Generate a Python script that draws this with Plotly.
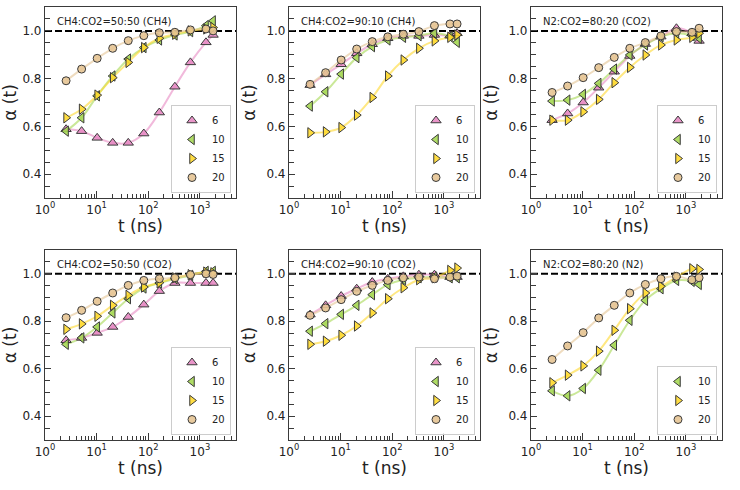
import math
import plotly.graph_objects as go

# ---- data ----
t_ns = [2.56, 5.12, 10.24, 20.48, 40.96, 81.92, 163.84, 327.68, 655.36, 1310.72, 1800]

panel_titles = ["CH4:CO2=50:50 (CH4)", "CH4:CO2=90:10 (CH4)", "N2:CO2=80:20 (CO2)",
                "CH4:CO2=50:50 (CO2)", "CH4:CO2=90:10 (CO2)", "N2:CO2=80:20 (N2)"]

a1_6 = [0.588, 0.580, 0.552, 0.531, 0.531, 0.570, 0.658, 0.766, 0.868, 0.952, 0.983]
a1_10 = [0.580, 0.636, 0.728, 0.811, 0.882, 0.930, 0.962, 0.983, 0.997, 1.022, 1.042]
a1_15 = [0.636, 0.672, 0.731, 0.804, 0.868, 0.930, 0.969, 0.986, 1.000, 1.008, 1.014]
a1_20 = [0.791, 0.840, 0.885, 0.927, 0.959, 0.980, 0.992, 0.994, 1.004, 1.008, 1.000]

a2_6 = [0.773, 0.818, 0.860, 0.906, 0.944, 0.969, 0.979, 0.979, 0.983, 0.980, 0.990]
a2_10 = [0.685, 0.745, 0.819, 0.888, 0.934, 0.962, 0.973, 0.980, 0.990, 0.976, 0.952]
a2_15 = [0.573, 0.577, 0.595, 0.647, 0.721, 0.811, 0.878, 0.927, 0.958, 0.973, 0.983]
a2_20 = [0.776, 0.825, 0.878, 0.924, 0.955, 0.975, 0.986, 0.997, 1.022, 1.029, 1.029]

a3_6 = [0.626, 0.654, 0.700, 0.762, 0.829, 0.895, 0.945, 0.976, 1.011, 0.990, 0.958]
a3_10 = [0.706, 0.710, 0.734, 0.780, 0.840, 0.899, 0.941, 0.976, 0.990, 0.980, 0.969]
a3_15 = [0.626, 0.626, 0.661, 0.713, 0.783, 0.847, 0.899, 0.941, 0.962, 0.973, 0.990]
a3_20 = [0.742, 0.769, 0.804, 0.846, 0.889, 0.927, 0.951, 0.979, 0.997, 0.994, 1.011]

a4_6 = [0.720, 0.730, 0.751, 0.776, 0.818, 0.870, 0.927, 0.961, 0.961, 0.961, 0.961]
a4_10 = [0.703, 0.730, 0.776, 0.835, 0.895, 0.940, 0.961, 0.979, 0.993, 1.010, 1.010]
a4_15 = [0.766, 0.789, 0.821, 0.867, 0.909, 0.944, 0.962, 0.983, 0.996, 1.007, 1.004]
a4_20 = [0.815, 0.846, 0.884, 0.919, 0.951, 0.972, 0.979, 0.983, 0.996, 1.000, 0.997]

a5_6 = [0.828, 0.867, 0.906, 0.937, 0.965, 0.979, 0.989, 0.996, 0.996, 0.986, 0.986]
a5_10 = [0.758, 0.790, 0.829, 0.867, 0.912, 0.954, 0.975, 0.983, 0.986, 0.983, 0.983]
a5_15 = [0.703, 0.716, 0.741, 0.780, 0.835, 0.895, 0.941, 0.975, 0.983, 1.014, 1.024]
a5_20 = [0.825, 0.856, 0.891, 0.926, 0.951, 0.972, 0.983, 0.986, 0.979, 0.986, 0.990]

a6_10 = [0.507, 0.486, 0.517, 0.594, 0.699, 0.804, 0.888, 0.937, 0.972, 0.968, 0.955]
a6_15 = [0.541, 0.573, 0.612, 0.674, 0.762, 0.853, 0.919, 0.947, 0.986, 1.021, 1.018]
a6_20 = [0.639, 0.696, 0.752, 0.814, 0.867, 0.919, 0.955, 0.979, 0.989, 0.975, 0.983]

panels = [
    {"6": a1_6, "10": a1_10, "15": a1_15, "20": a1_20},
    {"6": a2_6, "10": a2_10, "15": a2_15, "20": a2_20},
    {"6": a3_6, "10": a3_10, "15": a3_15, "20": a3_20},
    {"6": a4_6, "10": a4_10, "15": a4_15, "20": a4_20},
    {"6": a5_6, "10": a5_10, "15": a5_15, "20": a5_20},
    {"10": a6_10, "15": a6_15, "20": a6_20},
]

x_tickvals = [1, 10, 100, 1000]
x_ticktext = ["10<sup>0</sup>", "10<sup>1</sup>", "10<sup>2</sup>", "10<sup>3</sup>"]
x_minor = [m * 10 ** d for d in range(0, 4) for m in range(2, 10) if m * 10 ** d <= 5000]

# ---- style ----
rgb = {"6": (231, 138, 195), "10": (166, 216, 84), "15": (255, 217, 47), "20": (229, 196, 148)}
symbols = {"6": "triangle-up", "10": "triangle-left", "15": "triangle-right", "20": "circle"}

W, H = 740, 490
col_px = [(45, 236), (289, 480), (531, 722)]
row_px = [(7, 198), (250, 440)]

FONT = "DejaVu Sans"
AX = "#3a3a3a"

fig = go.Figure()
layout = dict(
    width=W, height=H, margin=dict(l=0, r=0, t=0, b=0),
    paper_bgcolor="white", plot_bgcolor="white",
    font=dict(family=FONT, color="#222", size=11),
    showlegend=True, shapes=[], annotations=[],
)

for i, data in enumerate(panels):
    r, c = divmod(i, 3)
    k = i + 1
    xa = "x" if k == 1 else f"x{k}"
    ya = "y" if k == 1 else f"y{k}"
    lg = "legend" if k == 1 else f"legend{k}"
    x0, x1 = col_px[c]
    y0, y1 = row_px[r]
    # lines
    for s, vals in data.items():
        R, G, B = rgb[s]
        fig.add_trace(go.Scatter(
            x=t_ns, y=vals, xaxis=xa, yaxis=ya, mode="lines",
            line=dict(shape="spline", smoothing=1.0, width=2, color=f"rgba({R},{G},{B},0.6)"),
            showlegend=False, hoverinfo="skip", legend=lg))
    # markers
    for s, vals in data.items():
        R, G, B = rgb[s]
        fig.add_trace(go.Scatter(
            x=t_ns, y=vals, xaxis=xa, yaxis=ya, mode="markers", name=s, legend=lg,
            marker=dict(symbol=symbols[s], size=9 if s != "20" else 8,
                        color=f"rgba({R},{G},{B},0.9)",
                        line=dict(color="#3a3a3a", width=1))))
    layout["xaxis" if k == 1 else f"xaxis{k}"] = dict(
        type="log", range=[0, math.log10(5000)], domain=[x0 / W, x1 / W], anchor=ya,
        showline=True, linecolor=AX, linewidth=1.2, mirror=True,
        showgrid=False, zeroline=False, automargin=False,
        ticks="inside", ticklen=7, tickcolor=AX, tickwidth=1,
        tickvals=x_tickvals, ticktext=x_ticktext,
        tickfont=dict(size=12, color="#222"),
        minor=dict(ticks="inside", ticklen=4, tickcolor=AX, tickvals=x_minor, showgrid=False),
        title=dict(text="t (ns)", font=dict(size=17, color="#222"), standoff=4),
    )
    layout["yaxis" if k == 1 else f"yaxis{k}"] = dict(
        range=[0.3, 1.1], domain=[1 - y1 / H, 1 - y0 / H], anchor=xa,
        showline=True, linecolor=AX, linewidth=1.2, mirror=True,
        showgrid=False, zeroline=False, automargin=False,
        ticks="inside", ticklen=6, tickcolor=AX, tickwidth=1,
        tick0=0, dtick=0.2, tickformat=".1f",
        tickfont=dict(size=12, color="#222"),
        minor=dict(ticks="inside", ticklen=5, tickcolor=AX, tick0=0, dtick=0.05, showgrid=False),
        title=dict(text="α (t)", font=dict(size=17, color="#222"), standoff=6),
    )
    layout[lg] = dict(
        x=(x1 - 5) / W, y=1 - (y1 - 5) / H, xanchor="right", yanchor="bottom",
        xref="paper", yref="paper",
        bgcolor="rgba(255,255,255,0.85)", bordercolor="#cccccc", borderwidth=1,
        font=dict(size=10, color="#222"), itemwidth=30, tracegroupgap=0,
    )
    layout["shapes"].append(dict(
        type="line", xref=f"{xa} domain", yref=ya, x0=0, x1=1, y0=1.0, y1=1.0,
        line=dict(color="black", width=2, dash="7px,3px"), layer="below"))
    layout["annotations"].append(dict(
        text=panel_titles[i], xref=f"{xa} domain", yref=f"{ya} domain",
        x=0.05, y=0.925, xanchor="left", yanchor="middle", showarrow=False,
        font=dict(size=10, color="#222")))

fig.update_layout(**layout)
fig.write_html("out.html", config={"displayModeBar": False},
               post_script="document.body.style.margin='0';document.body.style.overflow='hidden';")
